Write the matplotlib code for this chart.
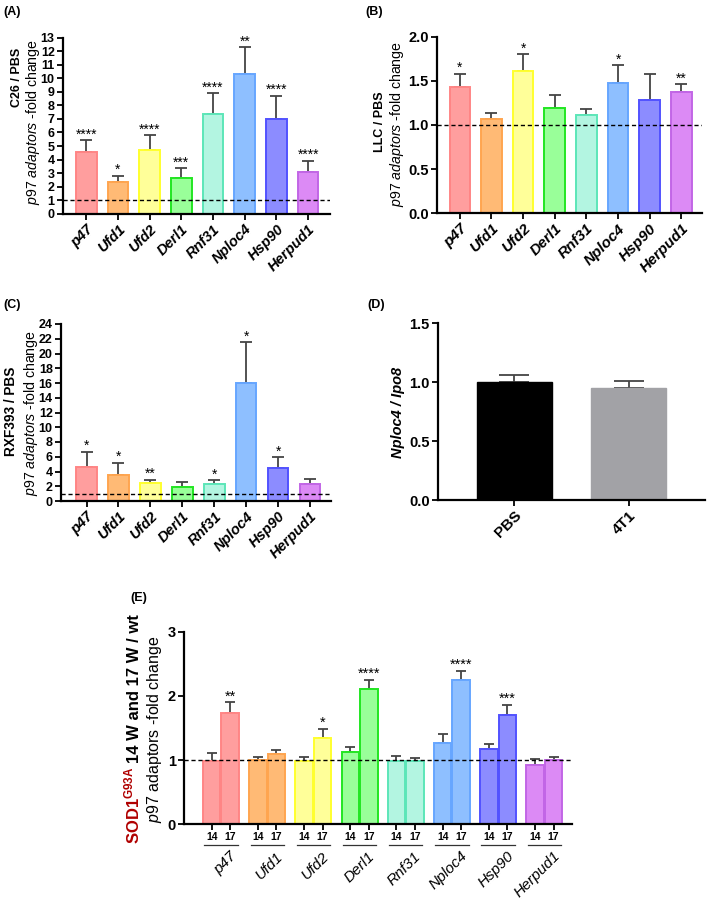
import matplotlib
matplotlib.use('Agg')
import matplotlib.pyplot as plt
import numpy as np
from matplotlib import transforms

plt.rcParams['font.family'] = ['Liberation Sans', 'DejaVu Sans']
plt.rcParams['mathtext.fontset'] = 'custom'
plt.rcParams['mathtext.rm'] = 'Liberation Sans'
plt.rcParams['mathtext.it'] = 'Liberation Sans:italic'
plt.rcParams['mathtext.bf'] = 'Liberation Sans:bold'

# ---------------- data ----------------
genes = ["p47", "Ufd1", "Ufd2", "Derl1", "Rnf31", "Nploc4", "Hsp90", "Herpud1"]

c26_mean = [4.53, 2.36, 4.73, 2.62, 7.34, 10.30, 6.97, 3.10]
c26_top = [5.42, 2.81, 5.81, 3.35, 8.89, 12.29, 8.72, 3.92]
c26_sig = ["****", "*", "****", "***", "****", "**", "****", "****"]

llc_mean = [1.43, 1.07, 1.61, 1.19, 1.11, 1.47, 1.28, 1.37]
llc_top = [1.58, 1.14, 1.80, 1.34, 1.18, 1.68, 1.58, 1.46]
llc_sig = ["*", "", "*", "", "", "*", "", "**"]

rxf_mean = [4.66, 3.53, 2.44, 1.90, 2.26, 16.06, 4.52, 2.26]
rxf_top = [6.70, 5.20, 2.90, 2.62, 2.85, 21.50, 5.93, 3.03]
rxf_sig = ["*", "*", "**", "", "*", "*", "*", ""]

d_groups = ["PBS", "4T1"]
d_mean = [1.00, 0.955]
d_top = [1.057, 1.014]

e_w14 = [0.99, 1.00, 0.98, 1.12, 0.98, 1.27, 1.17, 0.92]
e_w14_top = [1.11, 1.05, 1.05, 1.21, 1.06, 1.41, 1.25, 1.01]
e_w17 = [1.73, 1.09, 1.34, 2.11, 0.98, 2.24, 1.71, 1.00]
e_w17_top = [1.90, 1.16, 1.49, 2.25, 1.04, 2.39, 1.86, 1.05]
e_w17_sig = ["**", "", "*", "****", "", "****", "***", ""]
week_labels = ["14", "17"]

fills = ["#FF9E9E", "#FFBA75", "#FFFF99", "#99FF99", "#B3F5E1", "#8EBFFF", "#8C8CFF", "#DC8AF5"]
edges = ["#FF8585", "#FFA54F", "#FFFF2E", "#22E622", "#5CE6B8", "#66A6FF", "#5252FF", "#C266E6"]
d_colors = ["#000000", "#A2A2A6"]

W, H = 709, 900
fig = plt.figure(figsize=(W / 100, H / 100), dpi=100)


def add_ax(l, r, t, b):
    return fig.add_axes([l / W, 1 - b / H, (r - l) / W, (b - t) / H])


def style_ax(ax, ticksize):
    for s in ["top", "right"]:
        ax.spines[s].set_visible(False)
    for s in ["left", "bottom"]:
        ax.spines[s].set_linewidth(1.6)
    ax.tick_params(direction='out', length=4, width=1.3, pad=2)
    ax.tick_params(axis='y', labelsize=ticksize)
    for lab in ax.get_yticklabels():
        lab.set_fontweight('bold')


def ylab(x, y, s, **kw):
    fig.text(x / W, 1 - y / H, s, rotation=90, ha='center', va='center', **kw)


def bar_panel(ax, means, tops, sigs, ylim, yticks, fmt, xlim, ticksize, xlabsize):
    x = np.arange(len(means))
    means = np.array(means)
    tops = np.array(tops)
    ax.errorbar(x, means, yerr=[np.zeros(len(x)), tops - means], fmt='none',
                ecolor='#444444', elinewidth=1.3, capsize=4, capthick=1.3, zorder=1)
    ax.bar(x, means, width=0.65, color=fills, edgecolor=edges, linewidth=1.4, zorder=2)
    ax.axhline(1, color='black', lw=1.0, ls=(0, (3, 2)), zorder=3)
    for xi, t, s in zip(x, tops, sigs):
        if s:
            ax.annotate(s, (xi, t), xytext=(0, -1), textcoords='offset points',
                        ha='center', va='bottom', fontsize=10)
    ax.set_ylim(*ylim)
    ax.set_xlim(*xlim)
    ax.set_yticks(yticks)
    ax.set_yticklabels([fmt.format(v) for v in yticks])
    ax.set_xticks(x)
    style_ax(ax, ticksize)
    ax.set_xticklabels(genes, rotation=45, ha='right', rotation_mode='anchor',
                       fontsize=xlabsize, fontweight='bold', fontstyle='italic')


# ---------------- panel A ----------------
axA = add_ax(63, 330, 37.7, 213.7)
bar_panel(axA, c26_mean, c26_top, c26_sig, (0, 13), list(range(0, 14)), "{:d}",
          (-0.735, 7.69), 9, 10.5)
ylab(17, 77, "C26 / PBS", fontsize=9, fontweight='bold')
ylab(33.5, 122, r"$\mathit{p97\ adaptors}$ -fold change", fontsize=10.2)

# ---------------- panel B ----------------
axB = add_ax(437, 702, 36.7, 213.3)
bar_panel(axB, llc_mean, llc_top, llc_sig, (0, 2), [0, 0.5, 1.0, 1.5, 2.0], "{:.1f}",
          (-0.72, 7.65), 10.5, 11)
ylab(380, 122, "LLC / PBS", fontsize=9, fontweight='bold')
ylab(396.5, 124, r"$\mathit{p97\ adaptors}$ -fold change", fontsize=10.2)

# ---------------- panel C ----------------
axC = add_ax(61, 331, 324, 501)
bar_panel(axC, rxf_mean, rxf_top, rxf_sig, (0, 24), list(range(0, 25, 2)), "{:d}",
          (-0.8, 7.66), 9, 10.5)
ylab(11, 411, "RXF393 / PBS", fontsize=9.8, fontweight='bold')
ylab(31, 413, r"$\mathit{p97\ adaptors}$ -fold change", fontsize=10.2)

# ---------------- panel D ----------------
axD = add_ax(438, 705, 323.3, 500)
xd = np.arange(len(d_mean))
axD.errorbar(xd, d_mean, yerr=[np.zeros(2), np.array(d_top) - np.array(d_mean)], fmt='none',
             ecolor='#444444', elinewidth=1.3, capsize=11, capthick=1.3, zorder=1)
axD.bar(xd, d_mean, width=0.655, color=d_colors, edgecolor=d_colors, zorder=2)
axD.set_xlim(-0.67, 1.67)
axD.set_ylim(0, 1.5)
axD.set_yticks([0, 0.5, 1.0, 1.5])
axD.set_yticklabels(["0.0", "0.5", "1.0", "1.5"])
axD.set_xticks(xd)
style_ax(axD, 10.5)
axD.set_xticklabels(d_groups, rotation=45, ha='right', rotation_mode='anchor',
                    fontsize=11, fontweight='bold')
ylab(398, 412, "Nploc4 / Ipo8", fontsize=10.5, fontweight='bold', fontstyle='italic')

# ---------------- panel E ----------------
axE = add_ax(184, 572, 631.7, 824.3)
g = np.arange(len(genes))
off = 0.2
bw = 0.38
for pos, means, tops in [(g - off, e_w14, e_w14_top), (g + off, e_w17, e_w17_top)]:
    means = np.array(means)
    tops = np.array(tops)
    axE.errorbar(pos, means, yerr=[np.zeros(len(pos)), tops - means], fmt='none',
                 ecolor='#444444', elinewidth=1.3, capsize=3.5, capthick=1.3, zorder=1)
    axE.bar(pos, means, width=bw, color=fills, edgecolor=edges, linewidth=1.4, zorder=2)
for xi, t, s in zip(g + off, e_w17_top, e_w17_sig):
    if s:
        axE.annotate(s, (xi, t), xytext=(0, -1), textcoords='offset points',
                     ha='center', va='bottom', fontsize=10.5)
axE.axhline(1, color='black', lw=1.0, ls=(0, (3, 2)), zorder=3)
axE.set_xlim(-0.8, 7.6)
axE.set_ylim(0, 3)
axE.set_yticks([0, 1, 2, 3])
tick_pos = np.ravel(np.column_stack([g - off, g + off]))
axE.set_xticks(tick_pos)
style_ax(axE, 10.5)
axE.set_xticklabels(week_labels * len(genes), fontsize=7.5, fontweight='bold')
axE.tick_params(axis='x', pad=1.5)
trE = transforms.blended_transform_factory(axE.transData, axE.transAxes)
for gi, name in zip(g, genes):
    axE.plot([gi - 0.36, gi + 0.36], [-0.106, -0.106], color='#333333', lw=0.9,
             transform=trE, clip_on=False)
    axE.text(gi + 0.18, -0.128, name, transform=trE, rotation=45, ha='right', va='top',
             rotation_mode='anchor', fontsize=11, fontstyle='italic')

# two-colour y label for E
renderer = fig.canvas.get_renderer()
s1 = r"SOD1$^{\mathbf{G93A}}$"
s2 = "14 W and 17 W / wt"
t1 = fig.text(0, 0, s1, rotation=90, rotation_mode='anchor', ha='left', va='baseline',
              fontsize=12, fontweight='bold', color='#B00000')
t2 = fig.text(0, 0, s2, rotation=90, rotation_mode='anchor', ha='left', va='baseline',
              fontsize=12, fontweight='bold', color='black')
l1 = t1.get_window_extent(renderer).height
l2 = t2.get_window_extent(renderer).height
gap = 4
total = l1 + gap + l2
yc = 729
base_x = 139
y0 = (H - yc) - total / 2
t1.set_position((base_x / W, y0 / H))
t2.set_position((base_x / W, (y0 + l1 + gap) / H))
ylab(155, 729, r"$\mathit{p97}$ adaptors -fold change", fontsize=11.5)

# panel letters
for s, x, y in [("(A)", 3, 11.5), ("(B)", 365, 11.5), ("(C)", 3, 305), ("(D)", 367, 305), ("(E)", 130, 598)]:
    fig.text(x / W, 1 - y / H, s, ha='left', va='center', fontsize=9, fontweight='bold')

fig.savefig("out.png", dpi=100)
